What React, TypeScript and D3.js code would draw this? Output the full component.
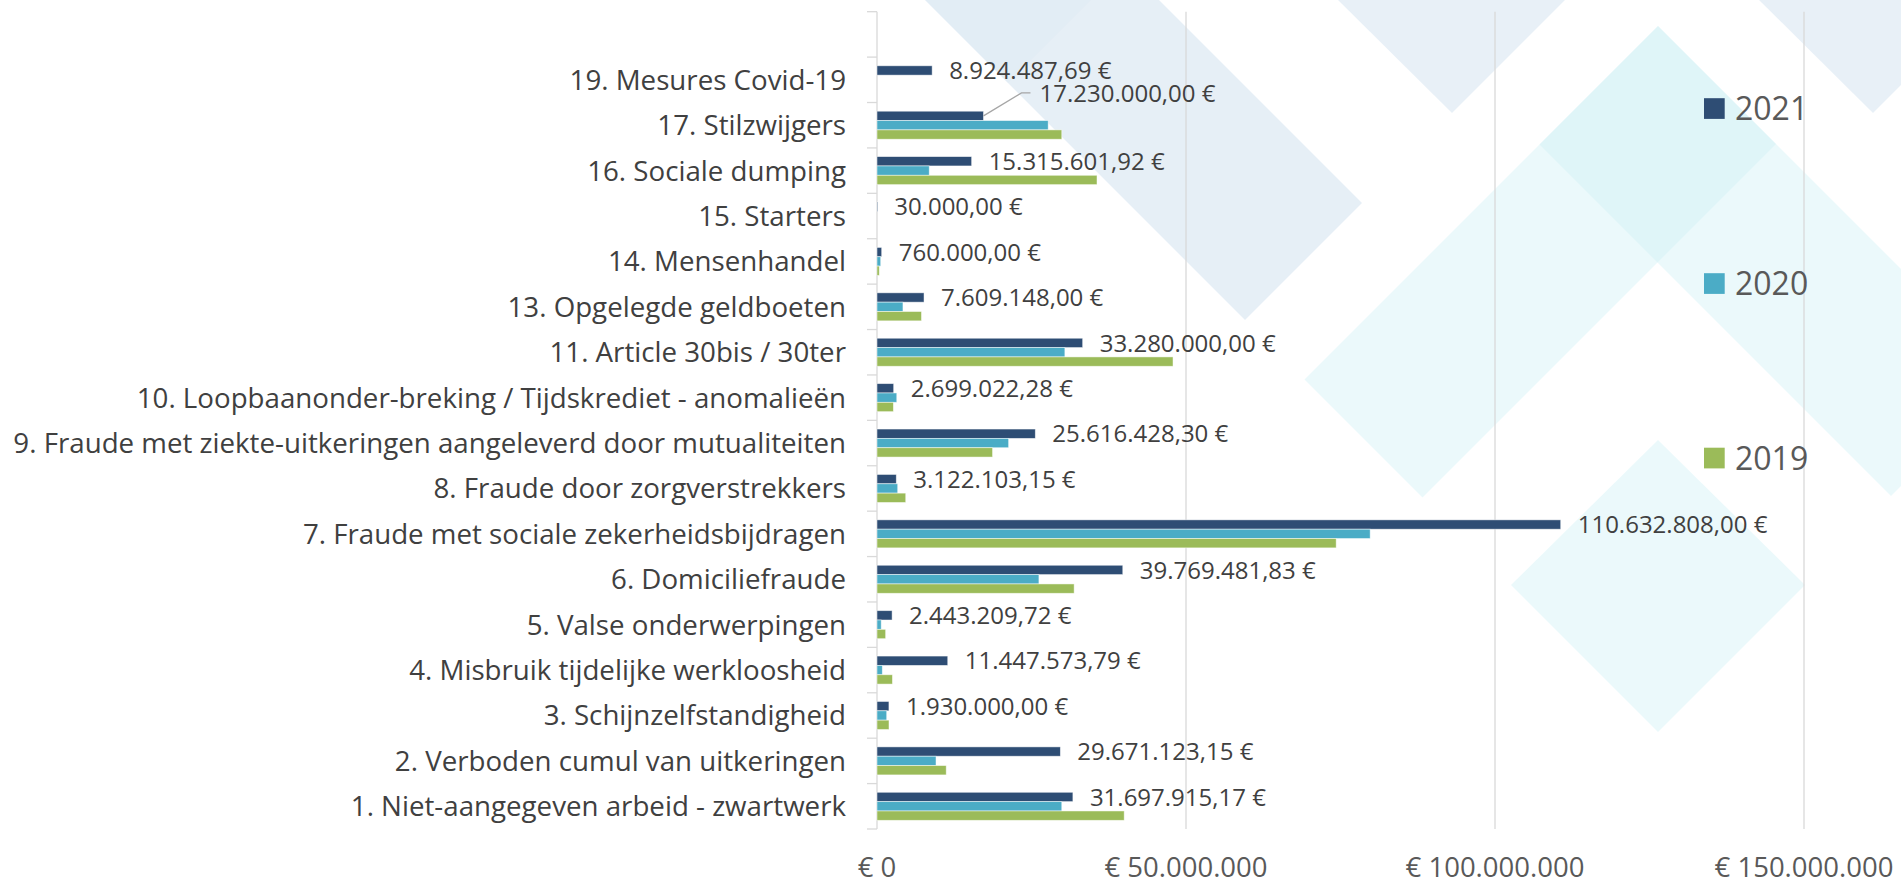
import React from 'react';
import * as d3 from 'd3';

// categories top to bottom (first slot is an empty row in the source chart)
const categories = [
  '',
  '19. Mesures Covid-19',
  '17. Stilzwijgers',
  '16. Sociale dumping',
  '15. Starters',
  '14. Mensenhandel',
  '13. Opgelegde geldboeten',
  '11. Article 30bis / 30ter',
  '10. Loopbaanonder-breking / Tijdskrediet - anomalieën',
  '9. Fraude met ziekte-uitkeringen aangeleverd door mutualiteiten',
  '8. Fraude door zorgverstrekkers',
  '7. Fraude met sociale zekerheidsbijdragen',
  '6. Domiciliefraude',
  '5. Valse onderwerpingen',
  '4. Misbruik tijdelijke werkloosheid',
  '3. Schijnzelfstandigheid',
  '2. Verboden cumul van uitkeringen',
  '1. Niet-aangegeven arbeid - zwartwerk',
];

const values2021 = [
  null, 8924487.69, 17230000, 15315601.92, 30000, 760000, 7609148, 33280000,
  2699022.28, 25616428.3, 3122103.15, 110632808, 39769481.83, 2443209.72,
  11447573.79, 1930000, 29671123.15, 31697915.17,
];
const values2020 = [
  null, null, 27700000, 8450000, 0, 600000, 4200000, 30400000,
  3200000, 21300000, 3350000, 79800000, 26200000, 680000,
  860000, 1570000, 9550000, 29900000,
];
const values2019 = [
  null, null, 29900000, 35600000, 0, 370000, 7200000, 47900000,
  2650000, 18700000, 4650000, 74300000, 31900000, 1400000,
  2500000, 1940000, 11200000, 40000000,
];

const seriesNames = ['2021', '2020', '2019'];
const seriesValues = [values2021, values2020, values2019];
const seriesColors = ['#2E4D74', '#4BACC6', '#9BBB59'];
const xTicks = [0, 50000000, 100000000, 150000000];

const W = 1901;
const H = 884;
const FONT = '"Open Sans", sans-serif';

const beLocale = d3.formatLocale({ decimal: ',', thousands: '.', grouping: [3], currency: ['', ' €'] });
const axisLocale = d3.formatLocale({ decimal: ',', thousands: '.', grouping: [3], currency: ['€ ', ''] });
const valueFmt = beLocale.format('$,.2f');
const tickFmt = axisLocale.format('$,.0f');

// decorative diamond lattice in the background
const bgGray = 'rgb(200,220,235)';
const bgCyan = 'rgb(205,240,246)';
const bgShapes = [
  { pts: [[925, 0], [1159, 0], [1362, 203], [1245, 320]], fill: bgGray, op: 0.45 },
  { pts: [[925, 0], [1091, 0], [1008, 83]], fill: bgGray, op: 0.12 },
  { pts: [[1338, 0], [1565, 0], [1452, 113]], fill: bgGray, op: 0.42 },
  { pts: [[1759, 0], [1901, 0], [1901, 85], [1873, 113]], fill: bgGray, op: 0.42 },
  { pts: [[1658, 26], [1776, 144], [1422.5, 497.5], [1304.5, 379.5]], fill: bgCyan, op: 0.4 },
  { pts: [[1658, 26], [2010, 378], [1891, 496], [1539.5, 144.5]], fill: bgCyan, op: 0.4 },
  { pts: [[1658, 440], [1805, 585], [1658, 732], [1511, 585]], fill: bgCyan, op: 0.4 },
];

// label nudges (index -> offset) where the chart moved a label
const labelShift: Record<number, { dx: number; dy: number }> = {
  2: { dx: 56, dy: -23 },
};

export default function App() {
  const x = d3.scaleLinear().domain([0, 150000000]).range([877, 1804]);
  const y0 = d3.scaleBand().domain(categories.map((c, i) => String(i))).range([11.7, 829]).paddingInner(0);
  const y1 = d3.scaleBand().domain(seriesNames).range([0, y0.bandwidth()]).paddingInner(0).paddingOuter(0.93);

  const legendY = [108.5, 283.5, 458];

  return (
    <div style={{ position: 'absolute', left: 0, top: 0 }}>
      <svg width={W} height={H} style={{ display: 'block', background: '#fff' }}>
        <g>
          {bgShapes.map((s, i) => (
            <polygon key={i} points={s.pts.map(p => p.join(',')).join(' ')} fill={s.fill} fillOpacity={s.op} />
          ))}
        </g>

        {/* gridlines */}
        <g>
          {xTicks.slice(1).map(t => (
            <line key={t} x1={x(t)} x2={x(t)} y1={11.7} y2={829} stroke="#d9d9d9" strokeWidth={1.3} />
          ))}
          <line x1={x(0)} x2={x(0)} y1={11.7} y2={829} stroke="#d9d9d9" strokeWidth={1.3} />
          {d3.range(categories.length + 1).map(i => {
            const yy = 11.7 + i * y0.step();
            return <line key={i} x1={x(0) - 10} x2={x(0)} y1={yy} y2={yy} stroke="#d9d9d9" strokeWidth={1.3} />;
          })}
        </g>

        {/* bars */}
        <g>
          {categories.map((c, i) => (
            <g key={i} transform={`translate(0,${y0(String(i))})`}>
              {seriesNames.map((s, si) => {
                const v = seriesValues[si][i];
                if (v == null || v <= 0) return null;
                return (
                  <rect
                    key={s}
                    x={x(0)}
                    y={y1(s)}
                    width={Math.max(0.8, x(v) - x(0))}
                    height={y1.bandwidth()}
                    fill={seriesColors[si]}
                    stroke="#ffffff"
                    strokeOpacity={0.6}
                    strokeWidth={0.8}
                  />
                );
              })}
            </g>
          ))}
        </g>

        {/* category labels */}
        <g fontFamily={FONT} fontSize={27.7} fill="#404040" textAnchor="end">
          {categories.map((c, i) => (
            <text key={i} x={846} y={(y0(String(i)) as number) + y0.bandwidth() / 2} dy="0.36em">{c}</text>
          ))}
        </g>

        {/* data labels for 2021 */}
        <g fontFamily={FONT} fontSize={24} fill="#404040">
          {values2021.map((v, i) => {
            if (v == null) return null;
            const bx = x(v);
            const by = (y0(String(i)) as number) + (y1('2021') as number) + y1.bandwidth() / 2;
            const sh = labelShift[i];
            if (sh) {
              const lx = bx + sh.dx;
              const ly = by + sh.dy;
              return (
                <g key={i}>
                  <polyline points={`${bx},${by} ${lx - 18},${ly} ${lx - 9},${ly}`} fill="none" stroke="#a6a6a6" strokeWidth={1.3} />
                  <text x={lx} y={ly} dy="0.36em">{valueFmt(v)}</text>
                </g>
              );
            }
            return <text key={i} x={bx + 17} y={by} dy="0.36em">{valueFmt(v)}</text>;
          })}
        </g>

        {/* x axis tick labels */}
        <g fontFamily={FONT} fontSize={27.5} fill="#595959" textAnchor="middle">
          {xTicks.map(t => (
            <text key={t} x={x(t)} y={877}>{tickFmt(t)}</text>
          ))}
        </g>

        {/* legend */}
        <g fontFamily={FONT} fontSize={32} fill="#595959">
          {seriesNames.map((s, si) => (
            <g key={s} transform={`translate(1704,${legendY[si]})`}>
              <rect x={0} y={-10.3} width={20.7} height={20.7} fill={seriesColors[si]} />
              <text x={31} y={0} dy="0.36em">{s}</text>
            </g>
          ))}
        </g>
      </svg>
    </div>
  );
}
